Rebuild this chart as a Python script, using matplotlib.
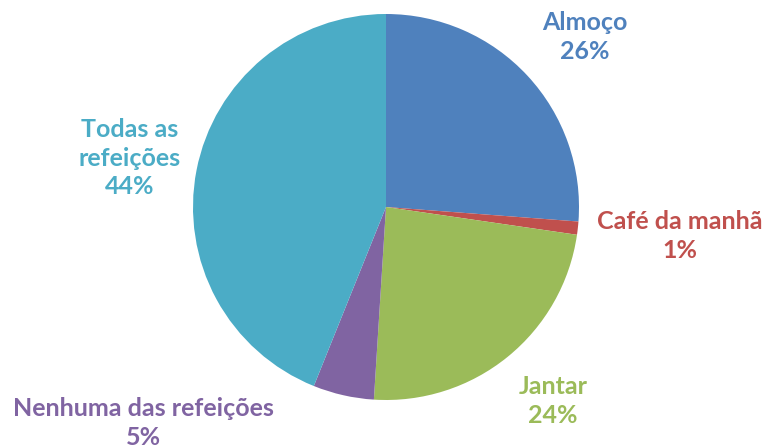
import matplotlib
matplotlib.use("Agg")
import matplotlib.pyplot as plt

# meal share data
categories = ["Almoço", "Café da manhã", "Jantar", "Nenhuma das refeições", "Todas as\nrefeições"]
values = [26.2, 1.1, 23.7, 5.1, 43.9]
pct_labels = ["26%", "1%", "24%", "5%", "44%"]
colors = ["#4F81BD", "#C0504D", "#9BBB59", "#8064A2", "#4BACC6"]

W, H = 765, 448
fig = plt.figure(figsize=(W / 100, H / 100), dpi=100)
ax = fig.add_axes([0, 0, 1, 1])

cx, cy, r = 386, H - 207, 193
ax.pie(values, colors=colors, startangle=90, counterclock=False,
       center=(cx, cy), radius=r, frame=True,
       wedgeprops=dict(linewidth=0))
ax.set_xlim(0, W)
ax.set_ylim(0, H)
ax.set_aspect("equal")
ax.axis("off")

# label anchor points (pixel space, y measured from top)
label_pos = [(585, 37), (680, 236), (553, 401), (143, 423), (130, 158)]
for name, pct, col, (x, y) in zip(categories, pct_labels, colors, label_pos):
    ax.text(x, H - y, f"{name}\n{pct}", color=col, ha="center", va="center",
            fontsize=18, fontweight="bold", family=["Lato", "DejaVu Sans"],
            linespacing=1.3)

fig.savefig("out.png", dpi=100)
